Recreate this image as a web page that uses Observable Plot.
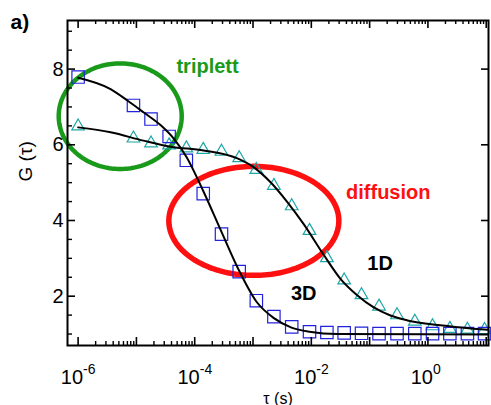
<!DOCTYPE html>
<html>
<head>
<meta charset="utf-8">
<script src="https://cdn.jsdelivr.net/npm/d3@7"></script>
<script src="https://cdn.jsdelivr.net/npm/@observablehq/plot@0.6"></script>
<style>
  body { margin: 0; background: #fff; }
</style>
</head>
<body>
<div id="chart"></div>
<script>
// Lag times (s) of the measured correlation points
const tau = [1.0e-6, 8.9e-6, 1.78e-5, 3.64e-5, 7.18e-5, 1.40e-4, 2.88e-4, 5.79e-4,
  1.14e-3, 2.28e-3, 4.61e-3, 9.31e-3, 1.85e-2, 3.66e-2, 7.26e-2, 0.145, 0.295,
  0.596, 1.20, 2.38, 4.76, 9.35];
// G(tau) for 3D diffusion (squares) and 1D diffusion (triangles)
const g3D = [7.79, 7.04, 6.68, 6.22, 5.59, 4.71, 3.64, 2.65, 1.88, 1.46, 1.19, 1.06,
  1.04, 1.03, 1.02, 1.01, 1.01, 1.01, 1.01, 1.01, 1.01, 1.01];
const g1D = [6.49, 6.17, 6.04, 5.99, 5.91, 5.87, 5.82, 5.65, 5.34, 4.92, 4.38, 3.73,
  3.01, 2.42, 2.03, 1.73, 1.50, 1.33, 1.21, 1.14, 1.12, 1.11];

// Fitted model curves
const fitTau3D = [1.0e-6, 3.6e-6, 7.0e-6, 1.32e-5, 2.59e-5, 4.33e-5, 7.23e-5, 1.42e-4,
  2.88e-4, 5.75e-4, 1.14e-3, 2.28e-3, 4.57e-3, 9.3e-3, 2.78e-2, 10.5];
const fitG3D = [7.77, 7.47, 7.17, 6.86, 6.52, 6.17, 5.68, 4.76, 3.70, 2.68, 1.86, 1.42,
  1.17, 1.06, 1.00, 0.99];
const fitTau1D = [1.0e-6, 3.6e-6, 1.32e-5, 3.85e-5, 1.42e-4, 5.4e-4, 1.02e-3, 2.0e-3,
  3.91e-3, 7.35e-3, 1.62e-2, 3.16e-2, 6.19e-2, 0.116, 0.228, 0.446, 1.64, 6.05, 10.5];
const fitG1D = [6.46, 6.33, 6.11, 5.95, 5.85, 5.64, 5.41, 5.01, 4.48, 3.91, 3.10, 2.46,
  2.02, 1.71, 1.49, 1.36, 1.23, 1.14, 1.11];

// Axis ticks
const xTickExponents = [-6, -4, -2, 0];
const xDecades = [-6, -5, -4, -3, -2, -1, 0, 1];
const yTicks = [2, 4, 6, 8];
const yMinorTicks = [1, 1.5, 2.5, 3, 3.5, 4.5, 5, 5.5, 6.5, 7, 7.5, 8.5, 9];

// Annotation labels
const labels = [
  {text: "triplett", color: "#1a9a1a"},
  {text: "diffusion", color: "#ff1010"},
  {text: "1D", color: "#000"},
  {text: "3D", color: "#000"}
];
const labelAt = [[-3.78, 7.91], [-0.68, 4.58], [-0.82, 2.68], [-2.13, 1.91]];

// Highlight ellipses: centre (log10 tau, G) and half-axes (decades, G units)
const ellipses = [
  {color: "#1a9a1a", c: [-5.278, 6.756], r: [1.055, 1.395], w: 4.5},
  {color: "#ff1010", c: [-2.986, 3.99], r: [1.458, 1.44], w: 5.5}
];

const W = 491, H = 405, mL = 67, mR = 3, mT = 20, mB = 60;
const innerW = W - mL - mR, innerH = H - mT - mB;

const blue = "#2222dd", teal = "#1fa6a6";

const minorX = [];
for (let k = -6; k <= 0; k++) for (let m = 2; m <= 9; m++) minorX.push(m * 10 ** k);
const majorX = xDecades.map(e => 10 ** e);

function ellipsePath(e) {
  return d3.range(0, 361, 2).map(a => {
    const t = a * Math.PI / 180;
    return {tau: 10 ** (e.c[0] + e.r[0] * Math.cos(t)), G: e.c[1] + e.r[1] * Math.sin(t)};
  });
}

const chart = Plot.plot({
  width: W, height: H,
  marginLeft: mL, marginRight: mR, marginTop: mT, marginBottom: mB,
  style: {fontFamily: "'Liberation Sans', Arial, sans-serif", background: "#fff", color: "#000"},
  x: {type: "log", domain: [10 ** -6.182, 10 ** 1.039], axis: null},
  y: {domain: [0.697, 9.284], axis: null},
  marks: [
    // highlight ellipses
    ...ellipses.map(e => Plot.line(ellipsePath(e), {x: "tau", y: "G", stroke: e.color, strokeWidth: e.w})),
    // measured points
    Plot.dot(tau, {x: tau, y: g1D, symbol: "triangle", r: 4.7, stroke: teal, fill: "none", strokeWidth: 1.2}),
    Plot.dot(tau, {x: tau, y: g3D, symbol: "square", r: 7, stroke: blue, fill: "none", strokeWidth: 1.2}),
    // fits
    Plot.line(fitTau1D, {x: fitTau1D, y: fitG1D, curve: "monotone-x", stroke: "#000", strokeWidth: 2}),
    Plot.line(fitTau3D, {x: fitTau3D, y: fitG3D, curve: "monotone-x", stroke: "#000", strokeWidth: 2}),
    // frame and inward ticks
    Plot.frame({stroke: "#000", strokeWidth: 2}),
    Plot.tickX(majorX, {x: d => d, insetTop: innerH - 8, strokeWidth: 1.6}),
    Plot.tickX(minorX, {x: d => d, insetTop: innerH - 4, strokeWidth: 1.4}),
    Plot.tickX(majorX, {x: d => d, insetBottom: innerH - 8, strokeWidth: 1.6}),
    Plot.tickX(minorX, {x: d => d, insetBottom: innerH - 4, strokeWidth: 1.4}),
    Plot.tickY(yTicks, {y: d => d, insetRight: innerW - 8, strokeWidth: 1.6}),
    Plot.tickY(yMinorTicks, {y: d => d, insetRight: innerW - 5, strokeWidth: 1.4}),
    Plot.tickY(yTicks, {y: d => d, insetLeft: innerW - 7, strokeWidth: 1.6}),
    // tick labels
    Plot.text(yTicks, {y: d => d, frameAnchor: "left", text: d => String(d), textAnchor: "end", dx: -4, fontSize: 20}),
    Plot.text(xTickExponents, {x: d => 10 ** d, frameAnchor: "bottom", text: () => "10", textAnchor: "end", lineAnchor: "bottom", dx: 5, dy: 38, fontSize: 20}),
    Plot.text(xTickExponents, {x: d => 10 ** d, frameAnchor: "bottom", text: d => String(d), textAnchor: "start", lineAnchor: "bottom", dx: 5, dy: 28, fontSize: 14}),
    // axis titles
    Plot.text(["τ (s)"], {frameAnchor: "bottom", text: d => d, lineAnchor: "bottom", dy: 58, fontSize: 16}),
    Plot.text(["G (τ)"], {frameAnchor: "left", text: d => d, rotate: -90, dx: -42, dy: -1.5, fontSize: 19}),
    Plot.text(["a)"], {frameAnchor: "top-left", text: d => d, textAnchor: "start", lineAnchor: "bottom", dx: -57, dy: 8, fontSize: 21, fontWeight: "bold"}),
    // annotations
    Plot.text(labels, {x: (d, i) => 10 ** labelAt[i][0], y: (d, i) => labelAt[i][1], text: "text", fill: "color", lineAnchor: "bottom", fontSize: 20, fontWeight: "bold"})
  ]
});
document.getElementById("chart").appendChild(chart);
</script>
</body>
</html>
